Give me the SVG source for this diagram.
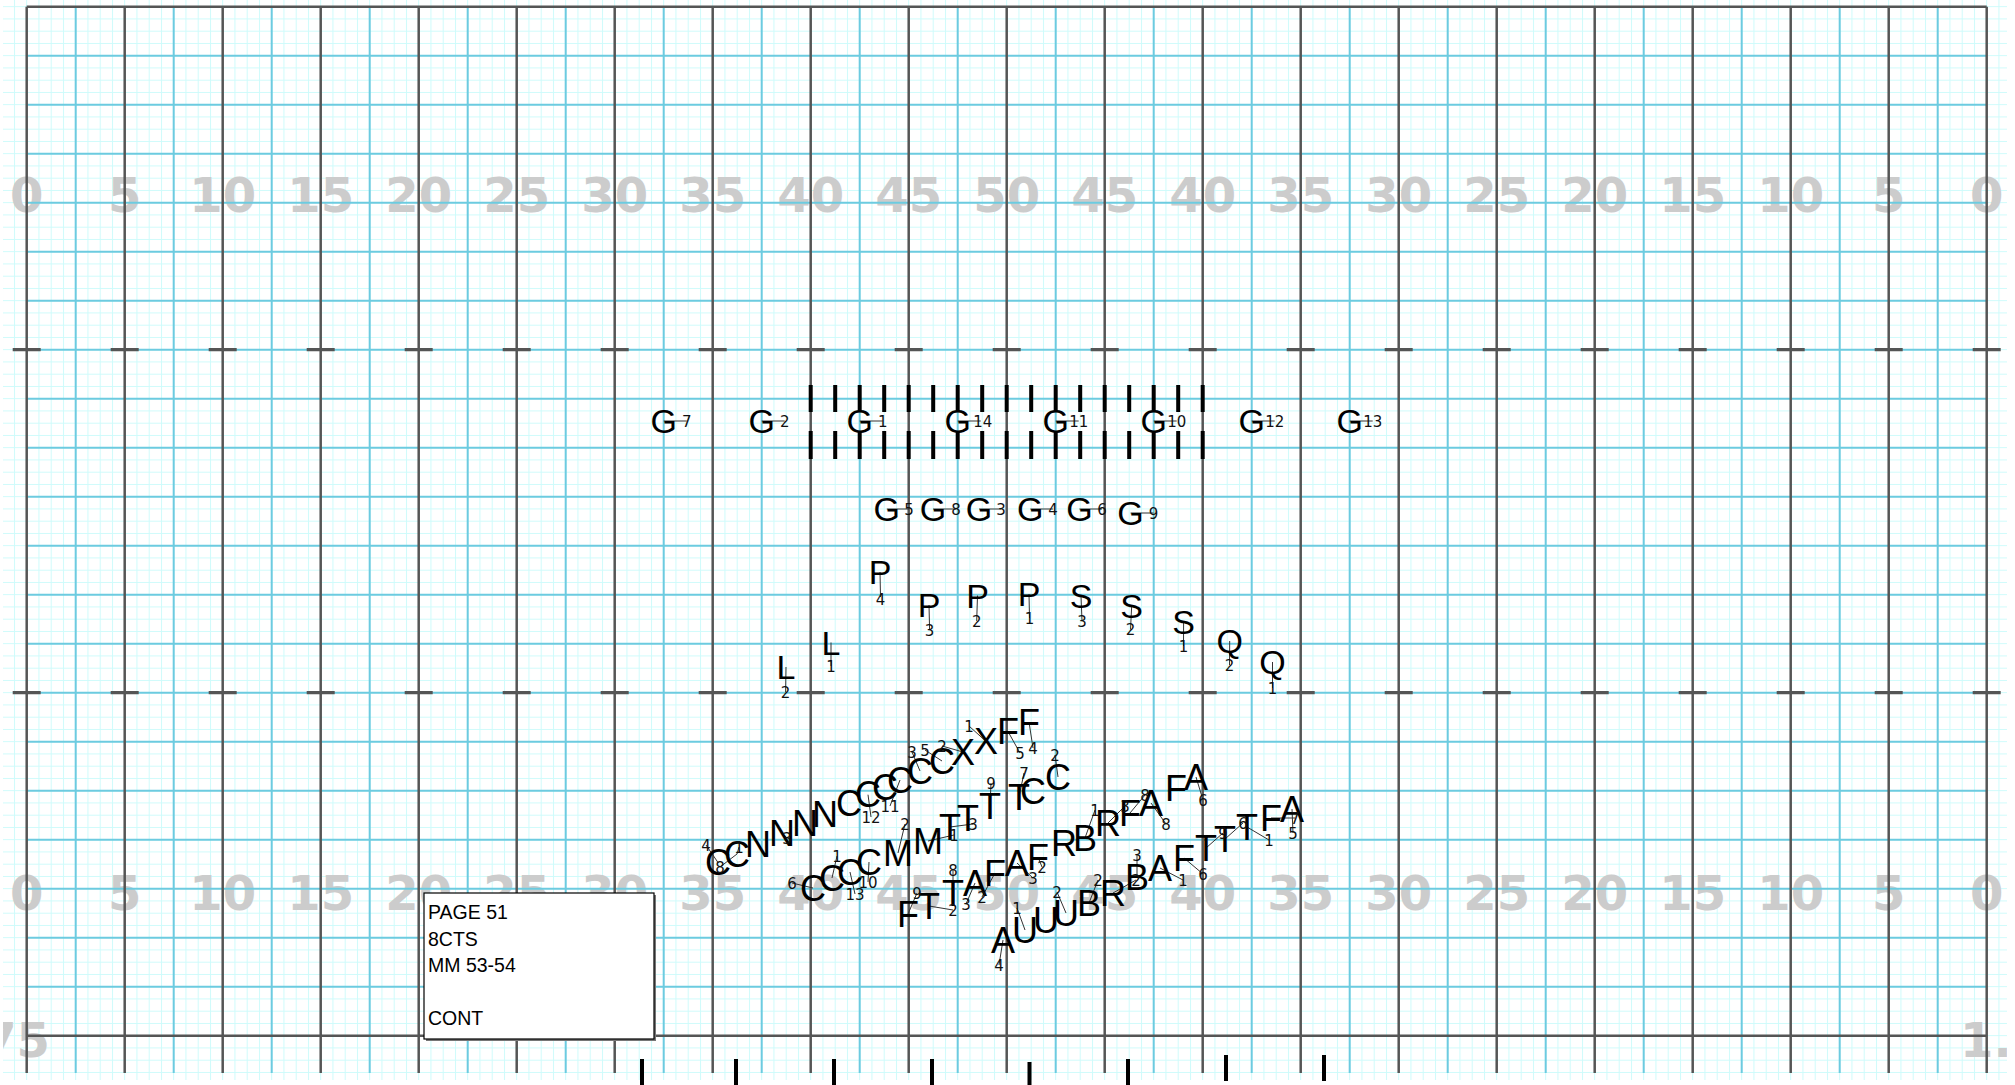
<svg xmlns="http://www.w3.org/2000/svg" width="2015" height="1085" viewBox="0 0 2015 1085">
<defs>
<pattern id="fine" patternUnits="userSpaceOnUse" x="1.7" y="-6.05" width="12.25" height="12.25"><path d="M0.5 0V12.25M0 0.5H12.25" stroke="#cdfbfb" stroke-width="1" fill="none"/></pattern>
<clipPath id="clip"><rect x="3" y="0" width="2004" height="1080"/></clipPath>
<style>
.yd{font-family:"DejaVu Sans",Verdana,sans-serif;font-weight:bold;font-size:48px;fill:#cccccc;text-anchor:middle}
.blue{stroke:#6ccbe0;stroke-width:2;fill:none}
.dark{stroke:#555;stroke-width:2.5;fill:none}
.hash{stroke:#555;stroke-width:3.2;fill:none}
.bar{stroke:#000;stroke-width:4}
.L{font-family:"Liberation Sans",Arial,sans-serif;font-size:34px;text-anchor:middle;fill:#000}
.cl .L{font-size:36px}
.n{font-family:"DejaVu Sans",sans-serif;font-size:15px;text-anchor:middle;fill:#111}
.k{stroke:#333;stroke-width:1}
.box{font-family:"Liberation Sans",Arial,sans-serif;font-size:19.5px;fill:#000}
</style>
</defs>
<rect width="2015" height="1085" fill="#fff"/>
<g id="field" clip-path="url(#clip)">
<rect x="3" y="0" width="2004" height="1080" fill="url(#fine)"/>
<g id="yard-numbers">
<text class="yd" x="26.7" y="212">0</text><text class="yd" x="124.7" y="212">5</text><text class="yd" x="222.7" y="212">10</text><text class="yd" x="320.7" y="212">15</text><text class="yd" x="418.7" y="212">20</text><text class="yd" x="516.7" y="212">25</text><text class="yd" x="614.7" y="212">30</text><text class="yd" x="712.7" y="212">35</text><text class="yd" x="810.7" y="212">40</text><text class="yd" x="908.7" y="212">45</text><text class="yd" x="1006.7" y="212">50</text><text class="yd" x="1104.7" y="212">45</text><text class="yd" x="1202.7" y="212">40</text><text class="yd" x="1300.7" y="212">35</text><text class="yd" x="1398.7" y="212">30</text><text class="yd" x="1496.7" y="212">25</text><text class="yd" x="1594.7" y="212">20</text><text class="yd" x="1692.7" y="212">15</text><text class="yd" x="1790.7" y="212">10</text><text class="yd" x="1888.7" y="212">5</text><text class="yd" x="1986.7" y="212">0</text>
<text class="yd" x="26.7" y="910">0</text><text class="yd" x="124.7" y="910">5</text><text class="yd" x="222.7" y="910">10</text><text class="yd" x="320.7" y="910">15</text><text class="yd" x="418.7" y="910">20</text><text class="yd" x="516.7" y="910">25</text><text class="yd" x="614.7" y="910">30</text><text class="yd" x="712.7" y="910">35</text><text class="yd" x="810.7" y="910">40</text><text class="yd" x="908.7" y="910">45</text><text class="yd" x="1006.7" y="910">50</text><text class="yd" x="1104.7" y="910">45</text><text class="yd" x="1202.7" y="910">40</text><text class="yd" x="1300.7" y="910">35</text><text class="yd" x="1398.7" y="910">30</text><text class="yd" x="1496.7" y="910">25</text><text class="yd" x="1594.7" y="910">20</text><text class="yd" x="1692.7" y="910">15</text><text class="yd" x="1790.7" y="910">10</text><text class="yd" x="1888.7" y="910">5</text><text class="yd" x="1986.7" y="910">0</text>
<text class="yd" x="50" y="1057" style="text-anchor:end">75</text>
<text class="yd" x="1960" y="1057" style="text-anchor:start">1.8</text>
</g>
<path class="blue" d="M75.7 6.7V1073M173.7 6.7V1073M271.7 6.7V1073M369.7 6.7V1073M467.7 6.7V1073M565.7 6.7V1073M663.7 6.7V1073M761.7 6.7V1073M859.7 6.7V1073M957.7 6.7V1073M1055.7 6.7V1073M1153.7 6.7V1073M1251.7 6.7V1073M1349.7 6.7V1073M1447.7 6.7V1073M1545.7 6.7V1073M1643.7 6.7V1073M1741.7 6.7V1073M1839.7 6.7V1073M1937.7 6.7V1073"/>
<path class="blue" d="M26.7 55.7H1986.7M26.7 104.7H1986.7M26.7 153.7H1986.7M26.7 202.7H1986.7M26.7 251.7H1986.7M26.7 300.7H1986.7M26.7 349.7H1986.7M26.7 398.7H1986.7M26.7 447.7H1986.7M26.7 496.7H1986.7M26.7 545.7H1986.7M26.7 594.7H1986.7M26.7 643.7H1986.7M26.7 692.7H1986.7M26.7 741.7H1986.7M26.7 790.7H1986.7M26.7 839.7H1986.7M26.7 888.7H1986.7M26.7 937.7H1986.7M26.7 986.7H1986.7"/>
<path class="dark" d="M26.7 6.7V1073M124.7 6.7V1073M222.7 6.7V1073M320.7 6.7V1073M418.7 6.7V1073M516.7 6.7V1073M614.7 6.7V1073M712.7 6.7V1073M810.7 6.7V1073M908.7 6.7V1073M1006.7 6.7V1073M1104.7 6.7V1073M1202.7 6.7V1073M1300.7 6.7V1073M1398.7 6.7V1073M1496.7 6.7V1073M1594.7 6.7V1073M1692.7 6.7V1073M1790.7 6.7V1073M1888.7 6.7V1073M1986.7 6.7V1073M26.7 6.7H1986.7M26.7 1035.7H1986.7"/>
<path class="hash" d="M12.7 349.7h28M110.7 349.7h28M208.7 349.7h28M306.7 349.7h28M404.7 349.7h28M502.7 349.7h28M600.7 349.7h28M698.7 349.7h28M796.7 349.7h28M894.7 349.7h28M992.7 349.7h28M1090.7 349.7h28M1188.7 349.7h28M1286.7 349.7h28M1384.7 349.7h28M1482.7 349.7h28M1580.7 349.7h28M1678.7 349.7h28M1776.7 349.7h28M1874.7 349.7h28M1972.7 349.7h28M12.7 692.7h28M110.7 692.7h28M208.7 692.7h28M306.7 692.7h28M404.7 692.7h28M502.7 692.7h28M600.7 692.7h28M698.7 692.7h28M796.7 692.7h28M894.7 692.7h28M992.7 692.7h28M1090.7 692.7h28M1188.7 692.7h28M1286.7 692.7h28M1384.7 692.7h28M1482.7 692.7h28M1580.7 692.7h28M1678.7 692.7h28M1776.7 692.7h28M1874.7 692.7h28M1972.7 692.7h28"/>
</g>
<g id="yardline-ticks">
<path class="bar" d="M810.7 385V412M835.2 385V412M859.7 385V412M884.2 385V412M908.7 385V412M933.2 385V412M957.7 385V412M982.2 385V412M1006.7 385V412M1031.2 385V412M1055.7 385V412M1080.2 385V412M1104.7 385V412M1129.2 385V412M1153.7 385V412M1178.2 385V412M1202.7 385V412"/>
<path class="bar" d="M810.7 431V459M835.2 431V459M859.7 431V459M884.2 431V459M908.7 431V459M933.2 431V459M957.7 431V459M982.2 431V459M1006.7 431V459M1031.2 431V459M1055.7 431V459M1080.2 431V459M1104.7 431V459M1129.2 431V459M1153.7 431V459M1178.2 431V459M1202.7 431V459"/>
<path class="bar" d="M642 1059V1085M736 1059V1085M834 1059V1085M932 1059V1085M1029.5 1062V1085M1128 1059V1085M1226 1055V1081M1324 1055V1081"/>
</g>
<g id="connectors">
<line class="k" x1="663.7" y1="421" x2="686.7" y2="421"/><line class="k" x1="761.7" y1="421" x2="784.7" y2="421"/><line class="k" x1="859.7" y1="421" x2="882.7" y2="421"/><line class="k" x1="957.7" y1="421" x2="980.7" y2="421"/><line class="k" x1="1055.7" y1="421" x2="1078.7" y2="421"/><line class="k" x1="1153.7" y1="421" x2="1176.7" y2="421"/><line class="k" x1="1251.7" y1="421" x2="1274.7" y2="421"/><line class="k" x1="1349.7" y1="421" x2="1372.7" y2="421"/>
<line class="k" x1="886.8" y1="509" x2="909" y2="509"/><line class="k" x1="933" y1="509" x2="956" y2="509"/><line class="k" x1="979" y1="509" x2="1001" y2="509"/><line class="k" x1="1030.3" y1="509" x2="1053" y2="509"/><line class="k" x1="1079.4" y1="509" x2="1102" y2="509"/><line class="k" x1="1130.6" y1="513" x2="1153.5" y2="513"/>
<line class="k" x1="880" y1="572" x2="880.5" y2="597"/><line class="k" x1="929" y1="605" x2="929.6" y2="630"/><line class="k" x1="977.5" y1="595.5" x2="976.7" y2="621"/><line class="k" x1="1029" y1="594" x2="1029.5" y2="618"/><line class="k" x1="1081" y1="595.7" x2="1082" y2="621"/><line class="k" x1="1131.7" y1="605.7" x2="1130.5" y2="629.5"/><line class="k" x1="1183.6" y1="621.7" x2="1183.5" y2="646"/><line class="k" x1="1229.7" y1="641" x2="1229.5" y2="665"/><line class="k" x1="1272.5" y1="662" x2="1272.5" y2="688"/><line class="k" x1="831" y1="642.5" x2="831" y2="666"/><line class="k" x1="786" y1="667" x2="785.6" y2="692"/>
<line class="k" x1="718" y1="862.5" x2="706" y2="845"/><line class="k" x1="737" y1="854" x2="720" y2="867"/><line class="k" x1="737" y1="854" x2="739" y2="847"/><line class="k" x1="782" y1="833.6" x2="787" y2="838"/><line class="k" x1="868" y1="794.7" x2="871" y2="817"/><line class="k" x1="900" y1="780" x2="890" y2="806"/><line class="k" x1="920" y1="771" x2="912" y2="752"/><line class="k" x1="942" y1="761" x2="925" y2="750"/><line class="k" x1="963" y1="752" x2="942" y2="746"/><line class="k" x1="986" y1="741.4" x2="969" y2="726"/><line class="k" x1="1008" y1="731.5" x2="1020" y2="753"/><line class="k" x1="1029" y1="722" x2="1033" y2="748"/>
<line class="k" x1="813" y1="888" x2="792" y2="883"/><line class="k" x1="832" y1="878" x2="837" y2="856"/><line class="k" x1="850" y1="872" x2="855" y2="894"/><line class="k" x1="869" y1="862" x2="868" y2="882"/><line class="k" x1="898" y1="853" x2="905" y2="824"/><line class="k" x1="928" y1="841" x2="954" y2="835"/><line class="k" x1="950" y1="827" x2="973" y2="824"/><line class="k" x1="990" y1="806" x2="991" y2="783"/><line class="k" x1="1019" y1="797" x2="1024" y2="773"/><line class="k" x1="1058" y1="777" x2="1055" y2="755"/>
<line class="k" x1="908" y1="914" x2="917" y2="893"/><line class="k" x1="929" y1="906" x2="953" y2="910"/><line class="k" x1="953" y1="893" x2="953" y2="870"/><line class="k" x1="975" y1="883" x2="966" y2="904"/><line class="k" x1="995" y1="873" x2="982" y2="897"/><line class="k" x1="1017" y1="863" x2="1033" y2="878"/><line class="k" x1="1038" y1="857" x2="1042" y2="867"/><line class="k" x1="1085" y1="838" x2="1095" y2="810"/><line class="k" x1="1108" y1="823" x2="1125" y2="806"/><line class="k" x1="1130" y1="813" x2="1145" y2="795"/><line class="k" x1="1151" y1="803" x2="1166" y2="824"/><line class="k" x1="1196" y1="777" x2="1203" y2="800"/>
<line class="k" x1="1003" y1="940" x2="999" y2="965"/><line class="k" x1="1025" y1="930" x2="1017" y2="908"/><line class="k" x1="1066" y1="913" x2="1057" y2="892"/><line class="k" x1="1089" y1="903" x2="1098" y2="880"/><line class="k" x1="1113" y1="893" x2="1136" y2="880"/><line class="k" x1="1137" y1="877" x2="1137" y2="855"/><line class="k" x1="1160" y1="868" x2="1183" y2="880"/><line class="k" x1="1184" y1="858" x2="1203" y2="874"/><line class="k" x1="1206" y1="848" x2="1223" y2="833"/><line class="k" x1="1225" y1="839" x2="1243" y2="823"/><line class="k" x1="1247" y1="827" x2="1269" y2="840"/><line class="k" x1="1271" y1="818" x2="1295" y2="818"/><line class="k" x1="1292" y1="809" x2="1293" y2="833"/>
</g>
<g id="performers">
<g id="G7"><text class="L" x="663.7" y="433">G</text><text class="n" x="686.7" y="426.5">7</text></g>
<g id="G2"><text class="L" x="761.7" y="433">G</text><text class="n" x="784.7" y="426.5">2</text></g>
<g id="G1"><text class="L" x="859.7" y="433">G</text><text class="n" x="882.7" y="426.5">1</text></g>
<g id="G14"><text class="L" x="957.7" y="433">G</text><text class="n" x="982.7" y="426.5">14</text></g>
<g id="G11"><text class="L" x="1055.7" y="433">G</text><text class="n" x="1078.7" y="426.5">11</text></g>
<g id="G10"><text class="L" x="1153.7" y="433">G</text><text class="n" x="1176.7" y="426.5">10</text></g>
<g id="G12"><text class="L" x="1251.7" y="433">G</text><text class="n" x="1274.7" y="426.5">12</text></g>
<g id="G13"><text class="L" x="1349.7" y="433">G</text><text class="n" x="1372.7" y="426.5">13</text></g>
<g id="G5"><text class="L" x="886.8" y="521">G</text><text class="n" x="909" y="514.5">5</text></g>
<g id="G8"><text class="L" x="933" y="521">G</text><text class="n" x="956" y="514.5">8</text></g>
<g id="G3"><text class="L" x="979" y="521">G</text><text class="n" x="1001" y="514.5">3</text></g>
<g id="G4"><text class="L" x="1030.3" y="521">G</text><text class="n" x="1053" y="514.5">4</text></g>
<g id="G6"><text class="L" x="1079.4" y="521">G</text><text class="n" x="1102" y="514.5">6</text></g>
<g id="G9"><text class="L" x="1130.6" y="525">G</text><text class="n" x="1153.5" y="518.5">9</text></g>
<g id="P4"><text class="L" x="880" y="584">P</text><text class="n" x="880.5" y="604.5">4</text></g>
<g id="P3"><text class="L" x="929" y="617">P</text><text class="n" x="929.6" y="635.5">3</text></g>
<g id="P2"><text class="L" x="977.5" y="607.5">P</text><text class="n" x="976.7" y="626.5">2</text></g>
<g id="P1"><text class="L" x="1029" y="606">P</text><text class="n" x="1029.5" y="623.5">1</text></g>
<g id="S3"><text class="L" x="1081" y="607.7">S</text><text class="n" x="1082" y="626.5">3</text></g>
<g id="S2"><text class="L" x="1131.7" y="617.7">S</text><text class="n" x="1130.5" y="635">2</text></g>
<g id="S1"><text class="L" x="1183.6" y="633.7">S</text><text class="n" x="1183.5" y="651.5">1</text></g>
<g id="Q2"><text class="L" x="1229.7" y="653">Q</text><text class="n" x="1229.5" y="670.5">2</text></g>
<g id="Q1"><text class="L" x="1272.5" y="674">Q</text><text class="n" x="1272.5" y="693.5">1</text></g>
<g id="L1"><text class="L" x="831" y="654.5">L</text><text class="n" x="831" y="671.5">1</text></g>
<g id="L2"><text class="L" x="786" y="679">L</text><text class="n" x="785.6" y="697.5">2</text></g>
<g id="lineA" class="cl">
<text class="L" x="718" y="875">C</text><text class="L" x="737" y="866.5">C</text><text class="L" x="758" y="857">N</text><text class="L" x="782" y="846">N</text><text class="L" x="805" y="835.5">N</text><text class="L" x="825" y="826.5">N</text><text class="L" x="849" y="815.5">C</text><text class="L" x="868" y="807">C</text><text class="L" x="885" y="799.5">C</text><text class="L" x="900" y="792.5">C</text><text class="L" x="920" y="783.5">C</text><text class="L" x="942" y="773.5">C</text><text class="L" x="963" y="764.5">X</text><text class="L" x="986" y="754">X</text><text class="L" x="1008" y="744">F</text><text class="L" x="1029" y="734.5">F</text>
<text class="n" x="706" y="850.5">4</text><text class="n" x="720" y="872.5">8</text><text class="n" x="739" y="852.5">1</text><text class="n" x="787" y="843.5">3</text><text class="n" x="871" y="822.5">12</text><text class="n" x="890" y="811.5">11</text><text class="n" x="912" y="757.5">3</text><text class="n" x="925" y="755.5">5</text><text class="n" x="942" y="751.5">2</text><text class="n" x="969" y="731.5">1</text><text class="n" x="1020" y="758.5">5</text><text class="n" x="1033" y="753.5">4</text>
</g>
<g id="lineB" class="cl">
<text class="L" x="813" y="900.5">C</text><text class="L" x="832" y="890.5">C</text><text class="L" x="850" y="884.5">C</text><text class="L" x="869" y="874.5">C</text><text class="L" x="898" y="865.5">M</text><text class="L" x="928" y="853.5">M</text><text class="L" x="950" y="839.5">T</text><text class="L" x="968" y="830.5">T</text><text class="L" x="990" y="818.5">T</text><text class="L" x="1019" y="809.5">T</text><text class="L" x="1033" y="803.5">C</text><text class="L" x="1058" y="789.5">C</text>
<text class="n" x="792" y="888.5">6</text><text class="n" x="837" y="861.5">1</text><text class="n" x="855" y="899.5">13</text><text class="n" x="868" y="887.5">10</text><text class="n" x="905" y="829.5">2</text><text class="n" x="954" y="840.5">1</text><text class="n" x="973" y="829.5">3</text><text class="n" x="991" y="788.5">9</text><text class="n" x="1024" y="778.5">7</text><text class="n" x="1055" y="760.5">2</text>
</g>
<g id="lineC" class="cl">
<text class="L" x="908" y="926.5">F</text><text class="L" x="929" y="918.5">T</text><text class="L" x="953" y="905.5">T</text><text class="L" x="975" y="895.5">A</text><text class="L" x="995" y="885.5">F</text><text class="L" x="1017" y="875.5">A</text><text class="L" x="1038" y="869.5">F</text><text class="L" x="1064" y="855.5">R</text><text class="L" x="1085" y="850.5">B</text><text class="L" x="1108" y="835.5">R</text><text class="L" x="1130" y="825.5">F</text><text class="L" x="1151" y="815.5">A</text><text class="L" x="1176" y="800.5">F</text><text class="L" x="1196" y="789.5">A</text>
<text class="n" x="917" y="898.5">9</text><text class="n" x="953" y="915.5">2</text><text class="n" x="953" y="875.5">8</text><text class="n" x="966" y="909.5">3</text><text class="n" x="982" y="902.5">2</text><text class="n" x="1033" y="883.5">3</text><text class="n" x="1042" y="872.5">2</text><text class="n" x="1095" y="815.5">1</text><text class="n" x="1125" y="811.5">3</text><text class="n" x="1145" y="800.5">8</text><text class="n" x="1166" y="829.5">8</text><text class="n" x="1203" y="805.5">6</text>
</g>
<g id="lineD" class="cl">
<text class="L" x="1003" y="952.5">A</text><text class="L" x="1025" y="942.5">U</text><text class="L" x="1046" y="932.5">U</text><text class="L" x="1066" y="925.5">U</text><text class="L" x="1089" y="915.5">B</text><text class="L" x="1113" y="905.5">R</text><text class="L" x="1137" y="889.5">B</text><text class="L" x="1160" y="880.5">A</text><text class="L" x="1184" y="870.5">F</text><text class="L" x="1206" y="860.5">T</text><text class="L" x="1225" y="851.5">T</text><text class="L" x="1247" y="839.5">T</text><text class="L" x="1271" y="830.5">F</text><text class="L" x="1292" y="821.5">A</text>
<text class="n" x="999" y="970.5">4</text><text class="n" x="1017" y="913.5">1</text><text class="n" x="1057" y="897.5">2</text><text class="n" x="1098" y="885.5">2</text><text class="n" x="1136" y="885.5">2</text><text class="n" x="1137" y="860.5">3</text><text class="n" x="1183" y="885.5">1</text><text class="n" x="1203" y="879.5">6</text><text class="n" x="1223" y="838.5">9</text><text class="n" x="1243" y="828.5">6</text><text class="n" x="1269" y="845.5">1</text><text class="n" x="1295" y="823.5">7</text><text class="n" x="1293" y="838.5">5</text>
</g>
</g>
<g id="info-box">
<rect x="426" y="895" width="230" height="146" fill="#777"/>
<rect x="424" y="893" width="230" height="146" fill="#fff" stroke="#000" stroke-width="1.2"/>
<text class="box" x="428" y="919">PAGE 51</text>
<text class="box" x="428" y="945.5">8CTS</text>
<text class="box" x="428" y="972">MM 53-54</text>
<text class="box" x="428" y="1025">CONT</text>
</g>
</svg>
